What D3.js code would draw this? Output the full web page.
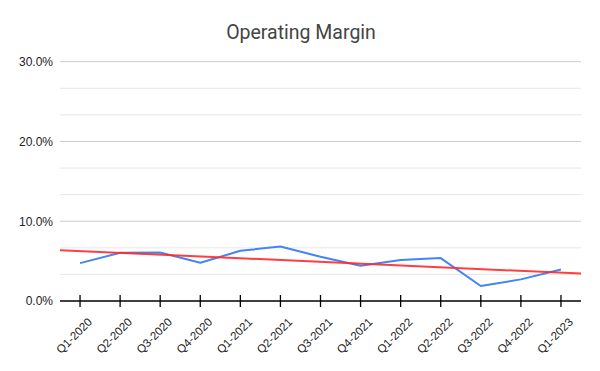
<!DOCTYPE html>
<html><head><meta charset="utf-8">
<script src="https://cdn.jsdelivr.net/npm/d3@7"></script>
<style>body{margin:0;background:#fff}svg{display:block}</style>
</head><body>
<svg id="c" width="600" height="371"></svg>
<script>
const categories = ["Q1-2020","Q2-2020","Q3-2020","Q4-2020","Q1-2021","Q2-2021","Q3-2021","Q4-2021","Q1-2022","Q2-2022","Q3-2022","Q4-2022","Q1-2023"];
const margin = [0.0475,0.0604,0.0608,0.0479,0.0629,0.0683,0.0554,0.0442,0.0513,0.0538,0.0188,0.0271,0.0396];
const yTicks = [0, 0.1, 0.2, 0.3];
const yMinorTicks = [0.1/3, 0.2/3, 0.4/3, 0.5/3, 0.7/3, 0.8/3];

const svg = d3.select("#c");
const L = 60, R = 581, T = 61.7, B = 301;
const x = d3.scaleBand().domain(categories).range([L, R]);
const y = d3.scaleLinear().domain([0, 0.3]).range([B, T]);
const cx = d => x(d) + x.bandwidth() / 2;

svg.append("text").attr("x", 301).attr("y", 39).attr("text-anchor", "middle")
  .attr("font-family", "Roboto, Arial, sans-serif").attr("font-size", 19.5).attr("fill", "#444")
  .text("Operating Margin");

// minor grid
svg.append("g").selectAll("line").data(yMinorTicks).join("line")
  .attr("x1", L).attr("x2", R).attr("y1", d => y(d)).attr("y2", d => y(d))
  .attr("stroke", "#e6e6e6").attr("stroke-width", 1);
// major grid
svg.append("g").selectAll("line").data(yTicks.filter(d => d > 0)).join("line")
  .attr("x1", L).attr("x2", R).attr("y1", d => y(d)).attr("y2", d => y(d))
  .attr("stroke", "#cccccc").attr("stroke-width", 1);

// y labels
const yAxis = d3.axisLeft(y).tickValues(yTicks).tickSize(0).tickPadding(7)
  .tickFormat(d => (d * 100).toFixed(1) + "%");
const gy = svg.append("g").attr("transform", `translate(${L},0)`).call(yAxis);
gy.select(".domain").remove();
gy.selectAll("text").attr("font-family", "Arial, 'Liberation Sans', sans-serif").attr("font-size", 12).attr("fill", "#222");

// trendline (linear regression)
const n = margin.length;
const mx = (n - 1) / 2, my = d3.mean(margin);
let sxy = 0, sxx = 0;
margin.forEach((v, i) => { sxy += (i - mx) * (v - my); sxx += (i - mx) * (i - mx); });
const slope = sxy / sxx, icpt = my - slope * mx;
const idxAt = px => (px - cx(categories[0])) / x.step();
const trend = [L, R].map(px => [px, y(icpt + slope * idxAt(px))]);

// data line
const line = d3.line().x((d, i) => cx(categories[i])).y(d => y(d));
svg.append("path").datum(margin).attr("d", line).attr("fill", "none")
  .attr("stroke", "#4285f4").attr("stroke-width", 2).attr("stroke-linejoin", "round");

svg.append("path").datum(trend).attr("d", d3.line()).attr("fill", "none")
  .attr("stroke", "#ff2a2a").attr("stroke-width", 2).attr("stroke-opacity", 0.9);

// x axis
const gx = svg.append("g").attr("transform", `translate(0,${B})`);
gx.append("line").attr("x1", L).attr("x2", R).attr("stroke", "#000").attr("stroke-width", 1.3);
gx.selectAll("line.t").data(categories).join("line").attr("class", "t")
  .attr("x1", d => cx(d)).attr("x2", d => cx(d)).attr("y1", -6).attr("y2", 6)
  .attr("stroke", "#000").attr("stroke-width", 1.3);
gx.selectAll("text").data(categories).join("text")
  .attr("transform", d => `translate(${cx(d) + 7},${16}) rotate(-45)`)
  .attr("text-anchor", "end").attr("dy", "0.7em")
  .attr("font-family", "Arial, 'Liberation Sans', sans-serif").attr("font-size", 11.5).attr("fill", "#222")
  .text(d => d);
</script>
</body></html>
